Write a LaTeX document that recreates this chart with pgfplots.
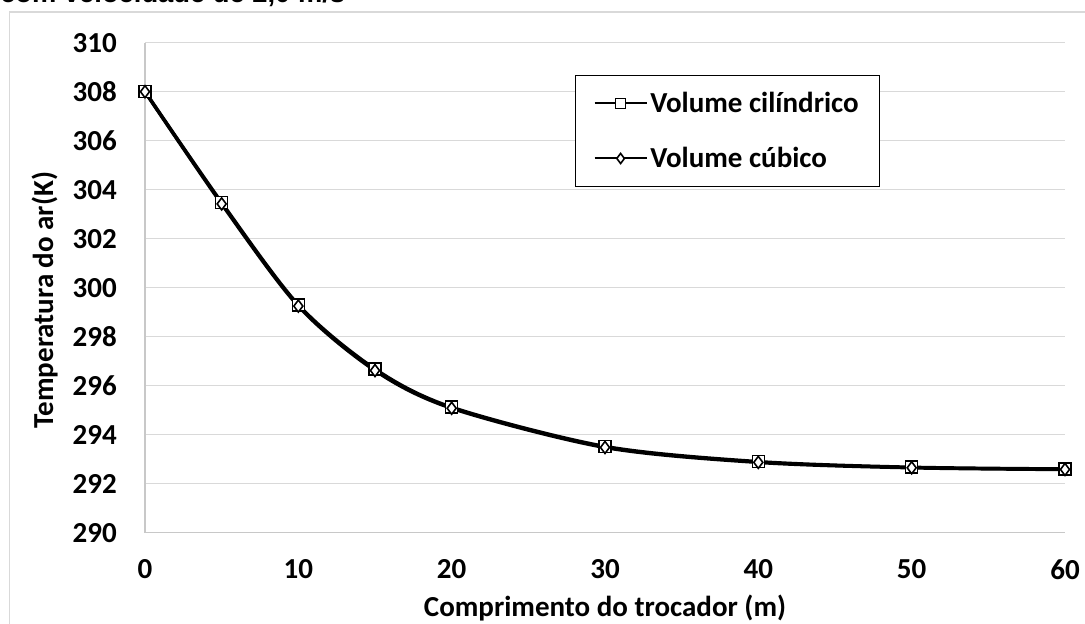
\documentclass[border=0pt]{standalone}
\usepackage{pgfplots}
\pgfplotsset{compat=1.18}
\usepackage{fontspec}
\setmainfont{Carlito}
\newfontfamily\arialfont{Liberation Sans}
\definecolor{gridc}{HTML}{D9D9D9}
\definecolor{axc}{HTML}{C8C8C8}
\newcommand{\cf}{\bfseries\fontsize{21.75}{26}\selectfont}
\begin{document}
\begin{tikzpicture}[x=0.75pt,y=0.75pt]
\useasboundingbox (0,0) rectangle (1085,624);
\clip (0,0) rectangle (1085,624);
\draw[gridc, line width=1pt] (9.5,-20) rectangle (1100,612);
\node[anchor=base west, inner sep=0, font=\arialfont\bfseries\fontsize{20.5}{24}\selectfont] at (0,621.5) {com velocidade de 2,0 m/s};
\begin{axis}[
  at={(108.75pt,68.475pt)}, anchor=south west,
  width=690pt, height=367.5pt, scale only axis,
  xmin=0, xmax=60, ymin=290, ymax=310,
  xtick={0,10,...,60}, ytick={290,292,...,310},
  axis x line*=bottom, axis y line*=left,
  axis line style={axc, line width=1.1pt},
  ymajorgrids, grid style={gridc, line width=1.1pt},
  major tick length=0pt,
  tick label style={font=\cf, /pgf/number format/assume math mode=true},
  yticklabel style={inner sep=0pt, anchor=east, xshift=-21pt},
  xticklabel style={inner sep=0pt, anchor=north, yshift=-19.7pt},
  /pgf/number format/1000 sep={},
  legend cell align=left,
  legend style={at={(0.4674,0.934)}, anchor=north west, draw=black, line width=0.9pt, fill=white, font=\cf, inner xsep=13.5pt, inner ysep=10.5pt, row sep=20.5pt},
  legend image code/.code={\draw[mark repeat=2,mark phase=2,#1,line width=1.5pt,mark size=3.8pt] plot coordinates {(0pt,0pt) (19.5pt,0pt) (39pt,0pt)};},
]
\addplot[black, line width=2.6pt, smooth, mark=square*, mark size=4.5pt, mark options={solid, fill=white, line width=1.2pt}] coordinates {
(0,308.0) (5,303.47) (10,299.3) (15,296.68) (20,295.12) (30,293.52) (40,292.9) (50,292.67) (60,292.6)};
\addlegendentry{Volume cilíndrico}
\addplot[black, line width=2.6pt, smooth, mark=diamond*, mark size=4.5pt, mark options={solid, fill=white, line width=1.2pt}] coordinates {
(0,308.0) (5,303.42) (10,299.25) (15,296.62) (20,295.08) (30,293.48) (40,292.87) (50,292.65) (60,292.58)};
\addlegendentry{Volume cúbico}
\end{axis}
\node[rotate=90, anchor=base, inner sep=0, font=\cf] at (53,324) {Temperatura do ar(K)};
\node[anchor=base, inner sep=0, font=\cf] at (605,7) {Comprimento do trocador (m)};
\end{tikzpicture}
\end{document}
